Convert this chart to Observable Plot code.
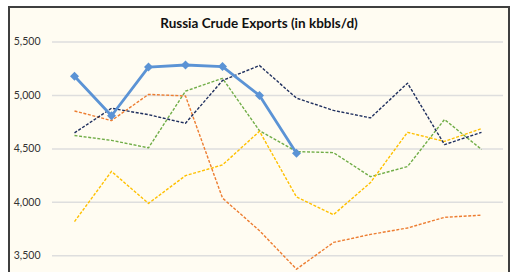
<!DOCTYPE html>
<html>
<head>
<meta charset="utf-8">
<script src="https://cdn.jsdelivr.net/npm/d3@7"></script>
<script src="https://cdn.jsdelivr.net/npm/@observablehq/plot@0.6"></script>
<style>
  html, body { margin: 0; padding: 0; background: #ffffff; overflow: hidden; width: 520px; height: 272px; }
  #frame { position: absolute; left: 8px; top: 6px; width: 498px; height: 320px; border: 2px solid #3f3f3f; background: #fffcf2; box-sizing: content-box; }
  #title { position: absolute; left: 8px; width: 502px; top: 15px; text-align: center; font-family: Lato, "Open Sans", sans-serif; font-weight: bold; font-size: 13.5px; color: #111; }
  #chart { position: absolute; left: 0; top: 0; }
</style>
</head>
<body>
<div id="frame"></div>
<div id="title">Russia Crude Exports (in kbbls/d)</div>
<div id="chart"></div>
<script>
const months = ["Jan","Feb","Mar","Apr","May","Jun","Jul","Aug","Sep","Oct","Nov","Dec"];
const yTicks = [3500, 4000, 4500, 5000, 5500];
const y2019 = [4650, 4880, 4820, 4740, 5140, 5280, 4975, 4860, 4790, 5115, 4540, 4655];
const y2020 = [4855, 4765, 5010, 4995, 4040, 3735, 3375, 3625, 3700, 3760, 3860, 3880];
const y2021 = [3820, 4290, 3990, 4250, 4350, 4665, 4050, 3885, 4185, 4655, 4570, 4690];
const y2022 = [4625, 4580, 4510, 5040, 5160, 4670, 4475, 4465, 4240, 4335, 4775, 4495];
const y2023 = [5180, 4810, 5265, 5285, 5270, 5000, 4460];

const toRows = (vals, year) => vals.map((v, i) => ({month: months[i], value: v, year}));

const diamond = {
  draw(ctx, size) {
    const r = Math.sqrt(size / Math.PI);
    ctx.moveTo(0, -r); ctx.lineTo(r, 0); ctx.lineTo(0, r); ctx.lineTo(-r, 0); ctx.closePath();
  }
};

const dashed = (vals, year, color) => Plot.line(toRows(vals, year), {
  x: "month", y: "value", stroke: color, strokeWidth: 1.4, strokeDasharray: "3,1.6", strokeLinecap: "butt"
});

const chart = Plot.plot({
  width: 520,
  height: 272,
  marginLeft: 52,
  marginRight: 17,
  marginTop: 41.5,
  marginBottom: 16.7,
  style: { background: "transparent", fontFamily: "Lato, 'Open Sans', sans-serif" },
  x: { type: "point", domain: months, padding: 0.5, axis: null },
  y: { domain: [3500, 5500], axis: null },
  marks: [
    Plot.gridY(yTicks, { stroke: "#dedede", strokeOpacity: 1, strokeWidth: 1.5 }),
    Plot.axisY({ ticks: yTicks, tickFormat: d3.format(","), tickSize: 0, tickPadding: 12, label: null, fontSize: 10.5, fill: "#333333" }),
    dashed(y2022, "2022", "#70ad47"),
    dashed(y2021, "2021", "#ffc000"),
    dashed(y2020, "2020", "#ed7d31"),
    dashed(y2019, "2019", "#1f2f5e"),
    Plot.line(toRows(y2023, "2023"), { x: "month", y: "value", stroke: "#5b93d5", strokeWidth: 2.8 }),
    Plot.dot(toRows(y2023, "2023"), { x: "month", y: "value", fill: "#5b93d5", stroke: "none", r: 4.5, symbol: diamond })
  ]
});
document.getElementById("chart").appendChild(chart);
</script>
</body>
</html>
